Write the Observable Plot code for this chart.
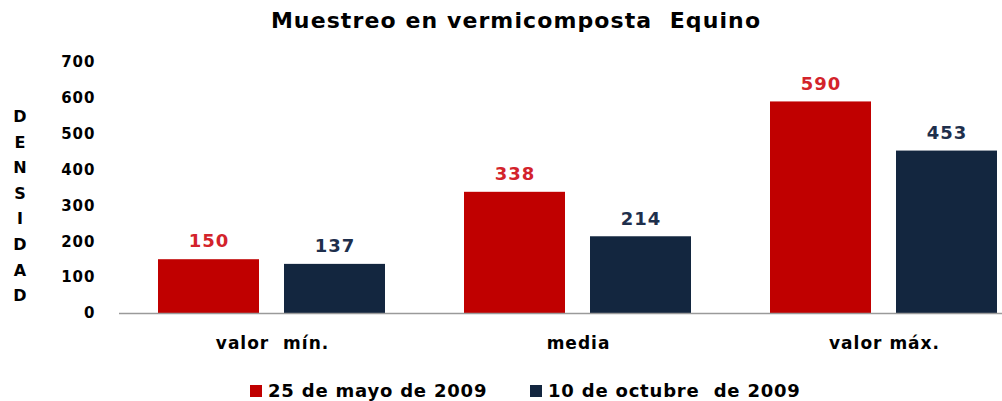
<!DOCTYPE html>
<html><head><meta charset="utf-8">
<script src="https://cdn.jsdelivr.net/npm/d3@7"></script>
<script src="https://cdn.jsdelivr.net/npm/@observablehq/plot@0.6"></script>
<style>
body{margin:0;background:#fff;}
#wrap{position:relative;width:1002px;height:401px;overflow:hidden;font-family:"DejaVu Sans",sans-serif;font-weight:bold;color:#000;}
#chart{position:absolute;left:0;top:0;}
#title{position:absolute;left:0;width:1032px;top:8px;text-align:center;font-size:22px;letter-spacing:1.1px;white-space:pre;}
#ylab{position:absolute;left:8px;width:24px;top:104px;text-align:center;font-size:16px;line-height:25.6px;}
.lg{position:absolute;top:380px;display:flex;align-items:center;font-size:18px;letter-spacing:0.8px;white-space:pre;line-height:22px;}
.lg .sw{width:12px;height:12px;margin-right:6px;}
</style></head>
<body><div id="wrap"><div id="chart"></div><div id="title"></div><div id="ylab"></div></div>
<script>
const title = "Muestreo en vermicomposta  Equino";
const yTitle = "DENSIDAD";
const categories = ["valor  mín.", "media", "valor máx."];
const series = ["25 de mayo de 2009", "10 de octubre  de 2009"];
const mayo = [150, 338, 590];
const octubre = [137, 214, 453];
const yTicks = [0, 100, 200, 300, 400, 500, 600, 700];
const barColors = ["#C00000", "#13263F"];
const labelColors = ["#D3232B", "#1E2F4C"];
const legendLeft = [250, 530];

const data = categories.flatMap((c, i) => [
  {category: c, serie: series[0], value: mayo[i]},
  {category: c, serie: series[1], value: octubre[i]}
]);

const font = '"DejaVu Sans",sans-serif';

const chart = Plot.plot({
  width: 1002,
  height: 401,
  marginTop: 62,
  marginBottom: 88,
  marginLeft: 118,
  marginRight: 0,
  style: {fontFamily: font, fontWeight: "bold", fontSize: "15px", letterSpacing: "1px", color: "#000", background: "transparent"},
  facet: {data, x: "category"},
  fx: {domain: categories, range: [118, 1038], paddingInner: 0, paddingOuter: 0, axis: null, label: null},
  x: {domain: series, axis: null, paddingInner: 0.197, paddingOuter: 0.305},
  y: {domain: [0, 700], ticks: yTicks, tickSize: 0, tickPadding: 24, label: null},
  color: {domain: series, range: barColors},
  marks: [
    Plot.barY(data, {x: "serie", y: "value", fill: "serie"}),
    Plot.ruleY([0], {stroke: "#9a9a9a", strokeWidth: 1.5}),
    Plot.text(data, {filter: d => d.serie === series[0], x: "serie", y: "value", text: d => String(d.value), dy: -18, fill: labelColors[0], fontSize: 18, fontWeight: "bold"}),
    Plot.text(data, {filter: d => d.serie === series[1], x: "serie", y: "value", text: d => String(d.value), dy: -18, fill: labelColors[1], fontSize: 18, fontWeight: "bold"}),
    Plot.text(data, {filter: d => d.serie === series[0], frameAnchor: "bottom", text: "category", dy: 35, fill: "#000", fontSize: 17, fontWeight: "bold"})
  ]
});
document.getElementById("chart").appendChild(chart);
chart.querySelectorAll("text").forEach(t => { t.setAttribute("xml:space", "preserve"); t.style.whiteSpace = "pre"; });

document.getElementById("title").textContent = title;
document.getElementById("ylab").innerHTML = yTitle.split("").join("<br>");
const wrap = document.getElementById("wrap");
series.forEach((s, i) => {
  const it = document.createElement("div");
  it.className = "lg";
  it.style.left = legendLeft[i] + "px";
  const sw = document.createElement("div");
  sw.className = "sw";
  sw.style.background = barColors[i];
  const tx = document.createElement("span");
  tx.textContent = s;
  it.appendChild(sw); it.appendChild(tx);
  wrap.appendChild(it);
});
</script></body></html>
